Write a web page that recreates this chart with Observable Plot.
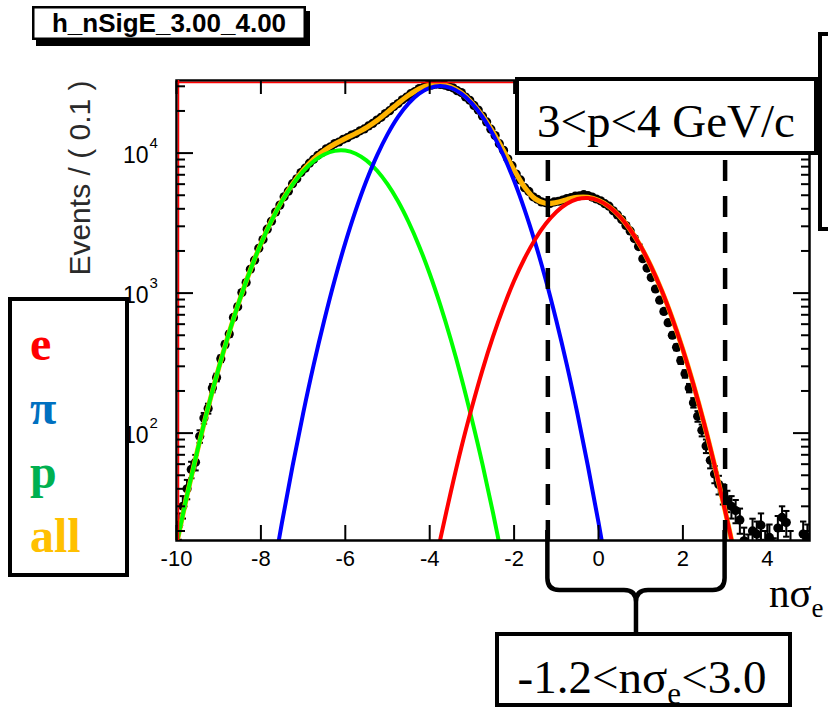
<!DOCTYPE html>
<html>
<head>
<meta charset="utf-8">
<script src="https://cdn.jsdelivr.net/npm/d3@7"></script>
<script src="https://cdn.jsdelivr.net/npm/@observablehq/plot@0.6"></script>
<style>
  html, body { margin: 0; padding: 0; background: #fff; overflow: hidden; }
  #wrap { position: relative; width: 828px; height: 711px; overflow: hidden; }
  #wrap > svg { position: absolute; left: 0; top: 0; }
</style>
</head>
<body>
<div id="wrap"></div>
<script>
// nσe distribution for 3 < p < 4 GeV/c, bins of 0.1
const binStart = -9.95;
const binWidth = 0.1;
const counts = [
  22, 30, 40, 55, 62, 95, 128, 150, 210, 250,
  340, 430, 510, 670, 800, 1010, 1190, 1480, 1720, 2090,
  2410, 2860, 3260, 3790, 4250, 4870, 5350, 6050, 6560, 7260,
  7800, 8470, 9020, 9650, 10100, 10720, 11080, 11700, 12000, 12560,
  12880, 13450, 13780, 14420, 14880, 15640, 16280, 17200, 18000, 19150,
  20100, 21500, 22580, 24000, 25100, 26550, 27500, 28900, 29400, 30400,
  30600, 31100, 30950, 30600, 29900, 29250, 27900, 27050, 25150, 23850,
  21900, 20300, 18400, 16700, 14830, 13360, 11680, 10480, 9100, 8130,
  7090, 6430, 5660, 5320, 4870, 4680, 4480, 4420, 4370, 4480,
  4530, 4620, 4740, 4810, 4920, 4960, 5050, 4980, 4850, 4700,
  4560, 4350, 4180, 3870, 3620, 3350, 3040, 2780, 2450, 2150,
  1760, 1510, 1290, 1070, 890, 740, 615, 500, 410, 330,
  265, 210, 165, 132, 105, 81, 64, 51, 43, 37,
  33, 30, 28, 24, 17, 15, 20, 19, 22, 16,
  18, 14, 21, 25, 23, 16, 13, 12, 19, 18
];

// fitted components, sampled every 0.25 in nσe
const fitStep = 0.25;
const electronStart = -3.75;
const electronFit = [17.4, 38, 79, 153, 282, 488, 794, 1224, 1774, 2426, 3126, 3800, 4350, 4697, 4780,
  4586, 4150, 3540, 2845, 2157, 1540, 1038, 658, 394, 222, 118, 59, 28, 12.5];
const pionStart = -7.75;
const pionFit = [8.6, 23, 58, 138, 307, 638, 1247, 2285, 3930, 6340, 9590, 13600, 18140, 22670, 26590, 29240,
  30200, 29240, 26590, 22670, 18140, 13600, 9590, 6340, 3930, 2285, 1247, 638, 307, 138, 58, 23, 8.6];
const protonStart = -10;
const protonFit = [16, 36, 76, 153, 291, 525, 900, 1462, 2250, 3280, 4540, 5960, 7410, 8750, 9780, 10370,
  10420, 9900, 8870, 7510, 6000, 4525, 3220, 2165, 1374, 823, 466, 249, 125, 60, 27, 11.4];
const allStart = -10;
const allFit = [16, 36, 76, 153, 291, 525, 900, 1462, 2253, 3289, 4563, 6018, 7548, 9057, 10418, 11617,
  12705, 13830, 15210, 17100, 19600, 22665, 25890, 28755, 30620, 31040, 29744, 26918, 22948, 18482,
  14115, 10395, 7569, 5706, 4711, 4373, 4438, 4657, 4835, 4838, 4609, 4159, 3543, 2845, 2157, 1540,
  1038, 658, 394, 222, 118, 59, 28, 12.5];

const xTicks = [-10, -8, -6, -4, -2, 0, 2, 4];
const yMajor = [100, 1000, 10000];
const yMinor = [20, 30, 40, 50, 60, 70, 80, 90, 200, 300, 400, 500, 600, 700, 800, 900,
  2000, 3000, 4000, 5000, 6000, 7000, 8000, 9000, 20000, 30000];
const cuts = [-1.2, 3.0];

const legendItems = [
  {label: "e", color: "#FF0000"},
  {label: "π", color: "#0070C0"},
  {label: "p", color: "#00B050"},
  {label: "all", color: "#FFC000"}
];

const points = counts.map((n, i) => ({
  x: binStart + i * binWidth, n, lo: n - Math.sqrt(n), hi: n + Math.sqrt(n)
}));
const curve = (start, vals) => vals.map((v, i) => ({x: start + i * fitStep, v}));

// horizontal cap at the ends of each error bar
const cap = {
  draw(ctx, size) {
    const w = Math.sqrt(size / Math.PI);
    ctx.moveTo(-w, 0);
    ctx.lineTo(w, 0);
  }
};

const fitLine = (start, vals, color) =>
  Plot.line(curve(start, vals), {x: "x", y: "v", stroke: color, strokeWidth: 4, curve: "catmull-rom", clip: true});

const chart = Plot.plot({
  width: 828,
  height: 711,
  marginLeft: 176,
  marginRight: 19,
  marginTop: 80,
  marginBottom: 171,
  style: {fontFamily: "'Liberation Sans', Arial, sans-serif", color: "black", background: "white"},
  x: {domain: [-10, 5], label: null},
  y: {type: "log", domain: [17.1, 33000], label: null},
  marks: [
    Plot.ruleX(points, {x: "x", y1: "lo", y2: "hi", stroke: "black", strokeWidth: 2, clip: true}),
    Plot.dot(points, {x: "x", y: "hi", symbol: cap, r: 3.2, fill: "none", stroke: "black", strokeWidth: 2, clip: true}),
    Plot.dot(points, {x: "x", y: "lo", symbol: cap, r: 3.2, fill: "none", stroke: "black", strokeWidth: 2, clip: true}),
    Plot.dot(points, {x: "x", y: "n", r: 4.6, fill: "black", clip: true}),
    Plot.line(curve(allStart, allFit), {x: "x", y: "v", stroke: "#FFB400", strokeWidth: 5, curve: "catmull-rom", clip: true}),
    fitLine(protonStart, protonFit, "#00FF00"),
    fitLine(pionStart, pionFit, "#0000FF"),
    fitLine(electronStart, electronFit, "#FF0000"),
    // frame and inward ticks
    Plot.frame({stroke: "black", strokeWidth: 2.5}),
    Plot.ruleX([-10], {stroke: "red", strokeWidth: 1.5, dx: 2}),
    Plot.ruleY([33000], {stroke: "red", strokeWidth: 1.5, dy: 2}),
    Plot.axisX({anchor: "bottom", ticks: xTicks, tickSize: -15, tickFormat: () => "", label: null, strokeWidth: 2}),
    Plot.axisX({anchor: "top", ticks: xTicks, tickSize: -13, tickFormat: () => "", label: null, strokeWidth: 2}),
    Plot.axisX({anchor: "bottom", ticks: xTicks, tickSize: 0, tickPadding: 10, fontSize: 22, tickFormat: d => String(d), label: null}),
    Plot.axisY({anchor: "left", ticks: yMajor, tickSize: -17, tickFormat: () => "", label: null, strokeWidth: 2}),
    Plot.axisY({anchor: "left", ticks: yMinor, tickSize: -9, tickFormat: () => "", label: null, strokeWidth: 2}),
    Plot.axisY({anchor: "right", ticks: yMajor, tickSize: -17, tickFormat: () => "", label: null, strokeWidth: 2}),
    Plot.axisY({anchor: "right", ticks: yMinor, tickSize: -9, tickFormat: () => "", label: null, strokeWidth: 2}),
    Plot.text(yMajor, {y: d => d, frameAnchor: "left", text: () => "10", textAnchor: "end", dx: -28, dy: 3, fontSize: 23}),
    Plot.text(yMajor, {y: d => d, frameAnchor: "left", text: d => String(Math.round(Math.log10(d))), textAnchor: "start", dx: -27, dy: -10, fontSize: 15}),
    Plot.text(["Events / ( 0.1 )"], {frameAnchor: "top-left", rotate: -90, textAnchor: "end", dx: -108, fontSize: 30, fill: "#2a2a2a"}),
    // selection window
    Plot.ruleX(cuts, {stroke: "black", strokeWidth: 4.5, strokeDasharray: "21 15", strokeDashoffset: 28})
  ]
});

const wrap = document.getElementById("wrap");
wrap.appendChild(chart);

// annotation layer: histogram name, momentum bin, legend, selection bracket
const sx = chart.scale("x");
const ov = d3.create("svg").attr("width", 828).attr("height", 711)
  .style("font-family", "'Liberation Serif', 'Times New Roman', serif");

// histogram name with drop shadow
ov.append("rect").attr("x", 36).attr("y", 11).attr("width", 274).attr("height", 35).attr("fill", "black");
ov.append("rect").attr("x", 33.25).attr("y", 7.25).attr("width", 271.5).attr("height", 31.5)
  .attr("fill", "white").attr("stroke", "black").attr("stroke-width", 2.5);
ov.append("text").attr("x", 169).attr("y", 32).attr("text-anchor", "middle")
  .style("font-family", "'Liberation Sans', Arial, sans-serif").style("font-weight", "bold").style("font-size", "26px")
  .text("h_nSigE_3.00_4.00");

// momentum bin
ov.append("rect").attr("x", 820).attr("y", 34).attr("width", 40).attr("height", 195)
  .attr("fill", "white").attr("stroke", "black").attr("stroke-width", 4);
ov.append("rect").attr("x", 517).attr("y", 79).attr("width", 299).attr("height", 74)
  .attr("fill", "white").attr("stroke", "black").attr("stroke-width", 4);
ov.append("text").attr("x", 666).attr("y", 137).attr("text-anchor", "middle").style("font-size", "47px")
  .text("3<p<4 GeV/c");

// species legend
ov.append("rect").attr("x", 10).attr("y", 299).attr("width", 117).attr("height", 276)
  .attr("fill", "white").attr("stroke", "black").attr("stroke-width", 4);
ov.selectAll("text.leg").data(legendItems).join("text").attr("class", "leg")
  .attr("x", 30).attr("y", (d, i) => 360 + i * 64)
  .attr("fill", d => d.color).style("font-weight", "bold").style("font-size", "48px")
  .text(d => d.label);

// x-axis title
const xt = ov.append("text").attr("x", 769).attr("y", 607).style("font-size", "41px");
xt.append("tspan").text("nσ");
xt.append("tspan").attr("dy", 10).style("font-size", "27px").text("e");

// bracket under the selection window
const xl = sx.apply(cuts[0]), xr = sx.apply(cuts[1]), xc = (xl + xr) / 2;
const yb = 590, rr = 12;
ov.append("path")
  .attr("d", `M${xl},530 V${yb - rr} Q${xl},${yb} ${xl + rr},${yb} H${xc - rr} Q${xc},${yb} ${xc},${yb + rr} V634
              M${xr},530 V${yb - rr} Q${xr},${yb} ${xr - rr},${yb} H${xc + rr} Q${xc},${yb} ${xc},${yb + rr}`)
  .attr("fill", "none").attr("stroke", "black").attr("stroke-width", 4.5);

ov.append("rect").attr("x", 497).attr("y", 634).attr("width", 293).attr("height", 71)
  .attr("fill", "white").attr("stroke", "black").attr("stroke-width", 4);
const ct = ov.append("text").attr("x", 642).attr("y", 693).attr("text-anchor", "middle").style("font-size", "47px");
ct.append("tspan").text("-1.2<nσ");
ct.append("tspan").attr("dy", 11).style("font-size", "31px").text("e");
ct.append("tspan").attr("dy", -11).text("<3.0");

wrap.appendChild(ov.node());
</script>
</body>
</html>
